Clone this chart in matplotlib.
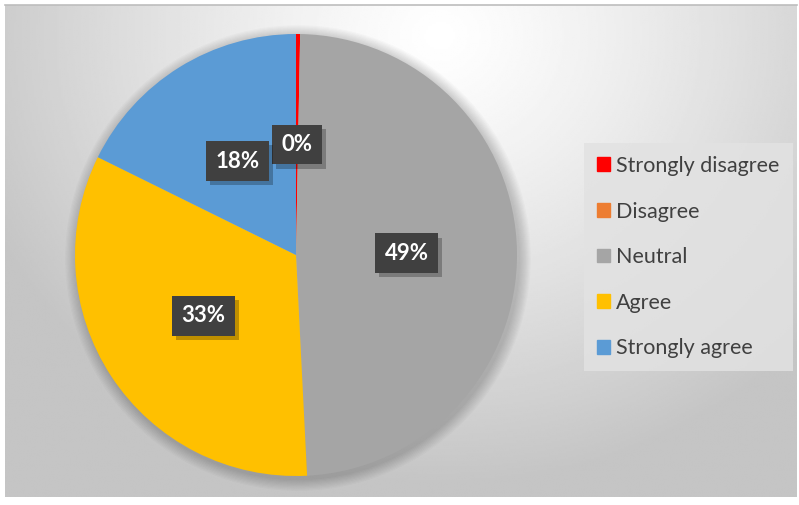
import numpy as np
import matplotlib
matplotlib.use("Agg")
import matplotlib.pyplot as plt
import matplotlib.patches as mpatches
import matplotlib.patheffects as pe

# data
categories = ['Strongly disagree', 'Disagree', 'Neutral', 'Agree', 'Strongly agree']
shares = [0.3, 0.0, 48.9, 33.1, 17.7]
colors = ['#FF0000', '#ED7D31', '#A5A5A5', '#FFC000', '#5B9BD5']

W, H = 799, 505
fig = plt.figure(figsize=(W / 100, H / 100), dpi=100)
fig.patch.set_facecolor('white')
ax = fig.add_axes([0, 0, 1, 1])

# radial grey background of the chart area
x0, x1, y0, y1 = 5, 797, 8, 500
gx, gy = np.meshgrid(np.linspace(x0, x1, 400), np.linspace(y1, y0, 250))
d = np.hypot(gx - 440, (gy - 470) * 1.1)
shade = np.clip(1.0 - 0.22 * (d / 480) ** 1.2, 0.77, 1.0)
ax.imshow(shade, cmap='gray', vmin=0, vmax=1, extent=(x0, x1, y0, y1),
          origin='upper', zorder=0, interpolation='bilinear')
ax.plot([x0, x1], [y1, y1], color='#bdbdbd', lw=1.2, zorder=1)

cx, cy, r = 296, 250, 221

# soft shadow under the pie
for k in range(10):
    ax.add_patch(mpatches.Circle((cx + 2, cy - 3), r + 1 + k * 1.2,
                                 color='black', alpha=0.018, lw=0, zorder=1))

wedges, _ = ax.pie(shares, colors=colors, startangle=90, counterclock=False,
                   center=(cx, cy), radius=r, frame=True,
                   wedgeprops=dict(linewidth=0, zorder=2))
ax.set_xlim(0, W)
ax.set_ylim(0, H)
ax.set_aspect('equal')
ax.axis('off')

# data labels at half radius on each wedge's mid angle
for w, val in zip(wedges, shares):
    if val <= 0:
        continue
    mid = np.deg2rad((w.theta1 + w.theta2) / 2)
    lx = cx + 0.5 * r * np.cos(mid)
    ly = cy + 0.5 * r * np.sin(mid)
    t = ax.text(lx, ly, f"{round(val):.0f}%", ha='center', va='center', fontsize=16,
                fontweight='bold', family='Lato', color='white', zorder=5,
                bbox=dict(boxstyle='square,pad=0.42', fc='#404040', ec='none'))
    t.get_bbox_patch().set_path_effects(
        [pe.SimplePatchShadow(offset=(3, -3), shadow_rgbFace='black', alpha=0.25), pe.Normal()])

handles = [mpatches.Patch(color=c) for c in colors]
leg = ax.legend(handles, categories, loc='upper left',
                bbox_to_anchor=(584 / W, 1 - 143 / H), bbox_transform=fig.transFigure,
                prop=dict(family='Lato', size=15.5), labelcolor='#404040',
                handlelength=0.6, handleheight=0.6, handletextpad=0.3,
                labelspacing=1.19, borderpad=0.6, frameon=True, fancybox=False,
                borderaxespad=0)
leg.get_frame().set_facecolor('#e2e2e2')
leg.get_frame().set_edgecolor('none')
leg.get_frame().set_alpha(0.85)

fig.savefig('out.png', dpi=100, facecolor='white')
